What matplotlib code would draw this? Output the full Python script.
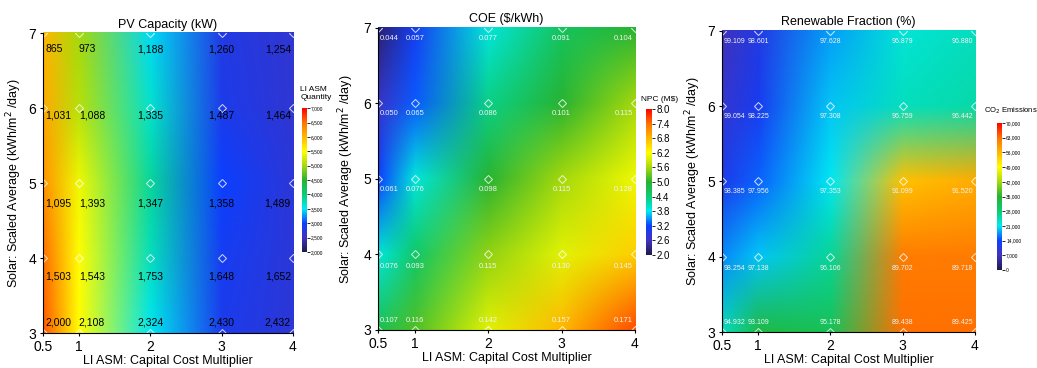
import numpy as np
import matplotlib
matplotlib.use("Agg")
import matplotlib.pyplot as plt
from matplotlib.colors import LinearSegmentedColormap
from matplotlib.image import NonUniformImage

plt.rcParams['font.family'] = ['Liberation Sans', 'DejaVu Sans']

# grid of the sensitivity run
cost_mult = [0.5, 1, 2, 3, 4]
solar = [3, 4, 5, 6, 7]

# overlay values, rows from solar=7 down to solar=3
pv_labels = [["865", "973", "1,188", "1,260", "1,254"],
             ["1,031", "1,088", "1,335", "1,487", "1,464"],
             ["1,095", "1,393", "1,347", "1,358", "1,489"],
             ["1,503", "1,543", "1,753", "1,648", "1,652"],
             ["2,000", "2,108", "2,324", "2,430", "2,432"]]
coe_labels = [["0.044", "0.057", "0.077", "0.091", "0.104"],
              ["0.050", "0.065", "0.086", "0.101", "0.115"],
              ["0.061", "0.076", "0.098", "0.115", "0.128"],
              ["0.076", "0.093", "0.115", "0.130", "0.145"],
              ["0.107", "0.116", "0.142", "0.157", "0.171"]]
ren_labels = [["99.109", "98.601", "97.628", "96.879", "96.880"],
              ["99.054", "98.225", "97.308", "96.759", "96.442"],
              ["98.385", "97.956", "97.353", "91.099", "91.520"],
              ["98.254", "97.138", "96.106", "89.702", "89.718"],
              ["94.932", "93.109", "95.178", "89.438", "89.425"]]

# colour surfaces, rows from solar=3 up to solar=7
li_asm_qty = [[6600, 5500, 3500, 2850, 2700],
              [6500, 5500, 3700, 2900, 2700],
              [6250, 5400, 3850, 3000, 2700],
              [6100, 5100, 3650, 2850, 2650],
              [6000, 5000, 3450, 2800, 2650]]
npc = [[4.7, 5.2, 6.0, 6.8, 7.6],
       [3.9, 4.5, 5.5, 6.0, 6.6],
       [3.2, 3.9, 5.0, 5.6, 6.1],
       [2.7, 3.3, 4.3, 5.0, 5.6],
       [2.2, 3.1, 3.9, 4.6, 5.0]]
co2 = [[24000, 33000, 31000, 63000, 63000],
       [17000, 19500, 26000, 62000, 62000],
       [12000, 15500, 21000, 55000, 57000],
       [9000, 12500, 19500, 24000, 25000],
       [7000, 11000, 18000, 22500, 24000]]

homer = LinearSegmentedColormap.from_list("homer", [
    (0.00, (0.12, 0.10, 0.30)),
    (0.10, (0.25, 0.20, 0.75)),
    (0.20, (0.05, 0.25, 1.00)),
    (0.30, (0.00, 0.92, 0.95)),
    (0.40, (0.05, 0.80, 0.45)),
    (0.50, (0.15, 0.70, 0.20)),
    (0.60, (0.65, 0.85, 0.05)),
    (0.70, (1.00, 1.00, 0.00)),
    (0.80, (1.00, 0.72, 0.00)),
    (0.90, (1.00, 0.45, 0.00)),
    (1.00, (1.00, 0.00, 0.00)),
])

fig = plt.figure(figsize=(10.37, 3.68), dpi=100)


def panel(rect, cbrect, title, field, vmin, vmax, labels, lab_color, lab_size,
          row_dy, second_left, cb_ticks, cb_fmt, cb_size, cb_title, cb_title_xy,
          cb_title_size, ylabel_x):
    ax = fig.add_axes(rect)
    im = NonUniformImage(ax, interpolation='bilinear', cmap=homer,
                         extent=(0.5, 4, 3, 7))
    im.set_clim(vmin, vmax)
    im.set_data(np.array(cost_mult, float), np.array(solar, float), np.array(field, float))
    ax.add_image(im)
    ax.set_xlim(0.5, 4)
    ax.set_ylim(3, 7)

    X, Y = np.meshgrid(cost_mult, solar)
    ax.plot(X.ravel(), Y.ravel(), 'D', ms=4, mfc='none', mec='white', mew=0.7,
            alpha=0.8, clip_on=True)

    for r, yv in enumerate(solar[::-1]):
        for c, xv in enumerate(cost_mult):
            if c == 0:
                ha, dx = 'left', 1.5
            elif c == 1 and second_left:
                ha, dx = 'left', 0
            elif c == len(cost_mult) - 1:
                ha, dx = 'right', -1.5
            else:
                ha, dx = 'center', 0
            dy = row_dy[r]
            va = 'bottom' if dy > 0 else 'top'
            ax.annotate(labels[r][c], (xv, yv), xytext=(dx, dy),
                        textcoords='offset points', ha=ha, va=va,
                        color=lab_color, fontsize=lab_size)

    ax.set_xticks(cost_mult)
    ax.set_xticklabels(['0.5', '1', '2', '3', '4'])
    ax.set_yticks(solar)
    ax.tick_params(labelsize=10, length=2, pad=1)
    ax.tick_params(axis='x', pad=3)
    ax.tick_params(axis='y', pad=3)
    for s in ['top', 'right']:
        ax.spines[s].set_visible(False)
    ax.set_title(title, fontsize=9, pad=4)
    ax.set_xlabel('LI ASM: Capital Cost Multiplier', fontsize=9, labelpad=1)
    ax.set_ylabel('Solar: Scaled Average (kWh/m$^2$ /day)', fontsize=9)
    ax.yaxis.set_label_coords(ylabel_x, 0.5)

    cax = fig.add_axes(cbrect)
    cb = fig.colorbar(im, cax=cax, ticks=cb_ticks)
    cb.ax.set_yticklabels([cb_fmt(t) for t in cb_ticks])
    cb.ax.tick_params(labelsize=cb_size, length=2, width=0.6, pad=1)
    cb.outline.set_visible(False)
    fig.text(cb_title_xy[0], cb_title_xy[1], cb_title, fontsize=cb_title_size,
             ha='left', va='bottom')
    return ax


panel([0.0415, 0.0951, 0.241, 0.815], [0.2912, 0.3152, 0.0048, 0.391],
      'PV Capacity (kW)', li_asm_qty, 2000, 7000, pv_labels, 'black', 7.5,
      [-8, -2, -11, -10, 4], True,
      list(range(2000, 7001, 500)), lambda t: f"{t:,}", 3.5,
      'LI ASM\nQuantity', (0.2895, 0.725), 6, -0.075)

panel([0.3645, 0.1033, 0.2478, 0.8207], [0.623, 0.307, 0.0058, 0.397],
      'COE ($/kWh)', npc, 2.0, 8.0, coe_labels, '#f2f2f2', 5.5,
      [-5, -5, -5, -6, 4], False,
      [2.0, 2.6, 3.2, 3.8, 4.4, 5.0, 5.6, 6.2, 6.8, 7.4, 8.0],
      lambda t: f"{t:.1f}", 7, 'NPC (M$)', (0.618, 0.72), 6, -0.085)

panel([0.6962, 0.0978, 0.244, 0.818], [0.9614, 0.266, 0.0048, 0.40],
      'Renewable Fraction (%)', co2, 0, 70000, ren_labels, '#f2f2f2', 5,
      [-5, -5, -5, -6, 4], False,
      list(range(0, 70001, 7000)), lambda t: f"{t:,}", 3.5,
      'CO$_2$ Emissions', (0.9485, 0.685), 5.5, -0.074)

fig.savefig('out.png', dpi=100)
